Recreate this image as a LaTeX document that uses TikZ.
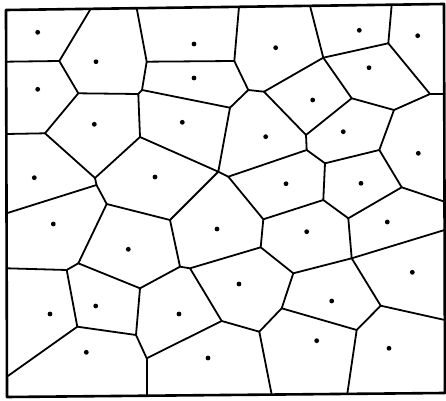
\documentclass[tikz,border=0pt]{standalone}
\usepackage{tikz}

\begin{document}
\begin{tikzpicture}[
  x=0.5pt,y=-0.5pt,line join=round,
  frame/.style={draw=black,line width=1.3pt},
  edge/.style={draw=black,line width=0.9pt},
  seed/.style={circle,fill=black,inner sep=0pt,minimum size=2.4pt}
]
\useasboundingbox (0,0) rectangle (446,401);

% Frame.
\draw[frame] (6,10) -- (444,4) -- (445,393) -- (7,397) -- cycle;

% Vertices on the frame.
\foreach \n/\x/\y in {t1/90.7/8.8,t2/136.7/8.2,t3/239/6.8,t4/310/5.8,t5/391.7/4.7,
  l1/6.1/61.7,l2/6.3/134,l3/6.5/213.3,l4/6.7/268.3,l5/6.9/376.7,
  r1/444.2/94,r2/444.5/201.7,r3/444.6/230,r4/444.8/320,
  b1/146.7/395.7,b2/271.7/394.6,b3/347.3/393.9}
  \coordinate (\n) at (\x,\y);

% Inner vertices.
\foreach \n/\x/\y in {va/59.3/61,vb/78.3/93.3,vc/146.7/61.7,vd/142/90,ve/138.3/94,
  vf/234.3/61,vg/248.3/90,vh/264/91.7,vi/230/107.7,vj/323.3/57.7,vk/388.3/43.3,
  vl/351.7/98.3,vm/430/94,vn/394/110,vo/306/135,vp/306.7/150,vq/325/163.3,
  vr/379.3/150,vs/401.7/187.3,vt/323.3/200,vu/348.3/218.3,vw/45/133.3,
  vx/140/137,vy/95/178,vz/96.5/185,vaa/106.7/204,vab/218.3/171.7,vac/228.3/176.7,
  vad/170/220,vae/263.3/219.3,vaf/260.7/247.3,vag/351.7/258.3,vah/78.3/263.3,
  vai/66.7/270,vaj/180/266.7,vak/190/268.3,val/140/288.3,vam/293.3/273.3,
  van/380.7/305.7,vao/77.3/326.7,vap/136/335,vaq/146.7/358.3,var/221.7/321,
  vas/259.3/331.7,vat/281.7/308.3,vau/356.7/330}
  \coordinate (\n) at (\x,\y);

% Cell walls.
\foreach \a/\b in {t1/va,va/l1,t2/vc,t3/vf,t4/vj,t5/vk,vm/r1,
  va/vb,vb/ve,ve/vd,vd/vc,vc/vf,vf/vg,vg/vh,vg/vi,vd/vi,vh/vj,vj/vk,vj/vl,
  vk/vm,vm/vn,vl/vn,vl/vo,vh/vo,vo/vp,vp/vac,vp/vq,vq/vr,vn/vr,vr/vs,vs/r2,
  vq/vt,vt/vae,vt/vu,vs/vu,vu/vag,vag/r3,vag/vam,vag/van,van/r4,van/vau,
  vau/vat,vau/b3,vat/vam,vat/vas,vas/b2,vas/var,var/vak,vak/vaf,vaf/vam,
  vaf/vae,vae/vac,vac/vab,vab/vi,vab/vx,vab/vad,vx/ve,vx/vy,vy/vw,vw/vb,
  vw/l2,vy/vz,vz/l3,vz/vaa,vaa/vad,vaa/vah,vad/vaj,vaj/vak,vaj/val,val/vah,
  vah/vai,vai/l4,vai/vao,val/vap,vao/vap,vao/l5,vap/vaq,vaq/var,vaq/b1}
  \draw[edge] (\a) -- (\b);

% Seeds.
\foreach \x/\y [count=\i] in {37.7/32.3,96/61.7,194/44,275.7/47.7,359.3/30.3,
  417.7/35.7,37.7/89.3,194/78,312.7/100,369/67.7,94.3/124.3,182.3/122.3,
  265.7/136.7,343.3/131.7,418.3/153.3,34.3/177.7,155/177,286/183.7,361/183.3,
  53.3/224,128.3/249.3,217/229,306.7/231.7,387.3/222,239/284,331.7/301,
  412.3/272.3,179/314,95.7/306,50/314,86.3/352.3,208/358,316.7/340.7,389/348.3}
  \node[seed] (s\i) at (\x,\y) {};
\end{tikzpicture}
\end{document}
